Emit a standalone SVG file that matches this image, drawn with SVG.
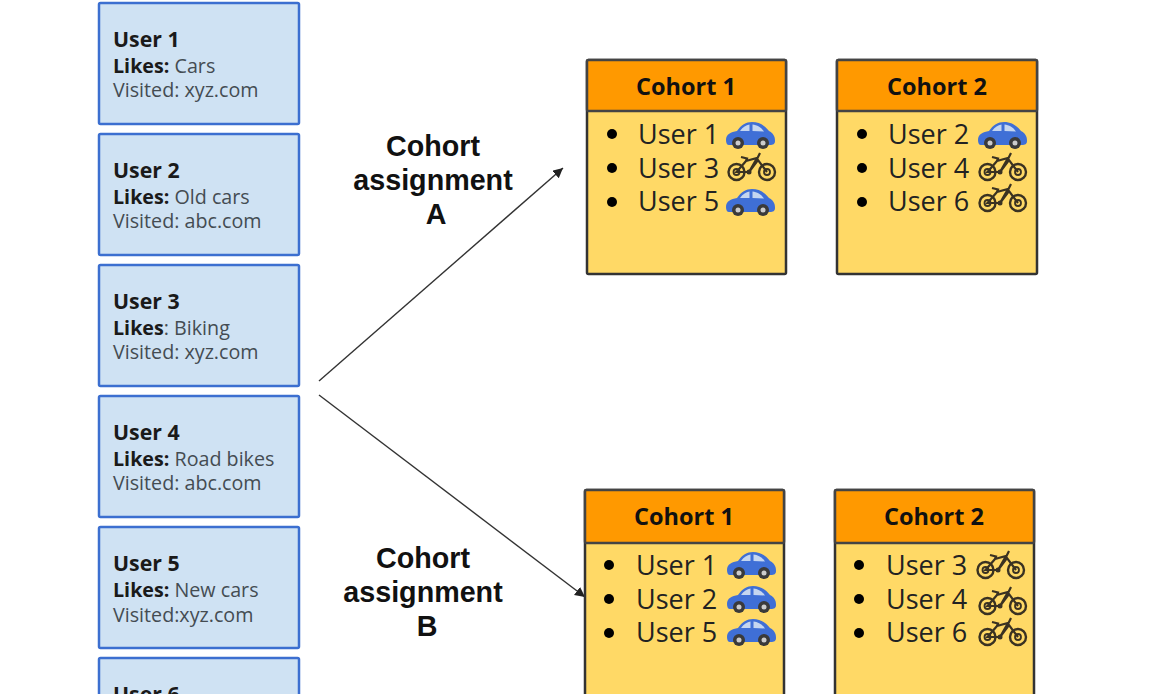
<svg xmlns="http://www.w3.org/2000/svg" xmlns:xlink="http://www.w3.org/1999/xlink" width="1170" height="694" viewBox="0 0 1170 694">
<style>
text{font-family:"Open Sans","Noto Sans","Liberation Sans",sans-serif}
.ub{fill:#cfe2f3;stroke:#3c6fd0;stroke-width:2.5}
.n{font-size:21.3px;font-weight:700;fill:#1a1a1a}
.l{font-size:19.7px;fill:#444c52}
.l tspan{font-weight:700;fill:#1a1a1a}
.cb{fill:#ffd966;stroke:#333;stroke-width:2.5}
.ch{fill:#ff9900;stroke:#444;stroke-width:2.5}
.ct{font-size:23.5px;font-weight:700;fill:#111;text-anchor:middle}
.it{font-size:27px;fill:#222}
.lab{font-family:"Liberation Sans",Arial,sans-serif;font-size:28.7px;font-weight:700;fill:#111;text-anchor:middle}
.conn{fill:none;stroke:#333;stroke-width:1.4}
</style>
<defs>
<marker id="ah" markerUnits="userSpaceOnUse" markerWidth="12" markerHeight="12" refX="10" refY="5" orient="auto"><path d="M0 0L10 5L0 10Z" fill="#222"/></marker>
<g id="car">
<path d="M0 18C0 12 5 10 11 9C15 3 20 0 26 0C34 0 39 4 43 9C47 11 49 14 49 19C49 22 47 23 44 23H3C1 23 0 21 0 18Z" fill="#3f6fd6"/>
<path d="M14 9C17 5 20 3 23.500 2.500V9ZM26.500 2.500C31 3 35 5 38 9.500L26.500 9Z" fill="#c5d6f0"/>
<circle cx="12" cy="21" r="6" fill="#3a3a3a"/><circle cx="12" cy="21" r="2.500" fill="#ccc"/>
<circle cx="37" cy="21" r="6" fill="#3a3a3a"/><circle cx="37" cy="21" r="2.500" fill="#ccc"/>
</g>
<g id="bike" fill="none" stroke="#3a3222">
<circle cx="9.500" cy="20" r="8" stroke-width="2.400"/><circle cx="9.500" cy="20" r="3" stroke-width="1.800"/>
<circle cx="40" cy="20" r="8" stroke-width="2.400"/><circle cx="40" cy="20" r="3" stroke-width="1.800"/>
<path d="M9.500 20L19 9L30 6L22 20ZM22 20L31 8L40 20M30 7L33 1M14 5L20 6.500L19 9" stroke-width="2.200"/>
<circle cx="22" cy="20" r="2.500" fill="#3a3222" stroke="none"/>
</g>
</defs>

<g id="connectors">
<path class="conn" marker-end="url(#ah)" d="M319 381L563 168"/>
<path class="conn" marker-end="url(#ah)" d="M319 395L585 597"/>
</g>

<g id="user1"><rect class="ub" x="99" y="3" width="200" height="121" rx="1.500"/><text class="n" x="113" y="47">User 1</text><text class="l" x="113" y="73"><tspan>Likes:</tspan> Cars</text><text class="l" x="113" y="97">Visited: xyz.com</text></g>
<g id="user2"><rect class="ub" x="99" y="134" width="200" height="121" rx="1.500"/><text class="n" x="113" y="178">User 2</text><text class="l" x="113" y="204"><tspan>Likes:</tspan> Old cars</text><text class="l" x="113" y="228">Visited: abc.com</text></g>
<g id="user3"><rect class="ub" x="99" y="265" width="200" height="121" rx="1.500"/><text class="n" x="113" y="309">User 3</text><text class="l" x="113" y="335"><tspan>Likes</tspan>: Biking</text><text class="l" x="113" y="359">Visited: xyz.com</text></g>
<g id="user4"><rect class="ub" x="99" y="396" width="200" height="121" rx="1.500"/><text class="n" x="113" y="440">User 4</text><text class="l" x="113" y="466"><tspan>Likes:</tspan> Road bikes</text><text class="l" x="113" y="490">Visited: abc.com</text></g>
<g id="user5"><rect class="ub" x="99" y="527" width="200" height="121" rx="1.500"/><text class="n" x="113" y="571">User 5</text><text class="l" x="113" y="597"><tspan>Likes:</tspan> New cars</text><text class="l" x="113" y="622">Visited:xyz.com</text></g>
<g id="user6"><rect class="ub" x="99" y="658" width="200" height="121" rx="1.500"/><text class="n" x="113" y="702">User 6</text></g>

<g id="labelA"><text class="lab" x="433" y="156">Cohort</text><text class="lab" x="433" y="190">assignment</text><text class="lab" x="436" y="224">A</text></g>
<g id="labelB"><text class="lab" x="423" y="568">Cohort</text><text class="lab" x="423" y="602">assignment</text><text class="lab" x="427" y="636">B</text></g>

<g id="cohortA1">
<rect class="cb" x="587" y="60" width="199" height="214" rx="1.500"/><rect class="ch" x="587" y="60" width="199" height="51" rx="1.500"/>
<text class="ct" x="686" y="95">Cohort 1</text>
<circle cx="612" cy="134" r="5"/><circle cx="612" cy="168" r="5"/><circle cx="612" cy="202" r="5"/>
<text class="it" x="638" y="144">User 1</text><text class="it" x="638" y="178">User 3</text><text class="it" x="638" y="211">User 5</text>
<use xlink:href="#car" href="#car" x="726" y="122"/><use xlink:href="#bike" href="#bike" x="727" y="152"/><use xlink:href="#car" href="#car" x="726" y="189"/>
</g>
<g id="cohortA2">
<rect class="cb" x="837" y="60" width="200" height="214" rx="1.500"/><rect class="ch" x="837" y="60" width="200" height="51" rx="1.500"/>
<text class="ct" x="937" y="95">Cohort 2</text>
<circle cx="862" cy="134" r="5"/><circle cx="862" cy="168" r="5"/><circle cx="862" cy="202" r="5"/>
<text class="it" x="888" y="144">User 2</text><text class="it" x="888" y="178">User 4</text><text class="it" x="888" y="211">User 6</text>
<use xlink:href="#car" href="#car" x="978" y="122"/><use xlink:href="#bike" href="#bike" x="978" y="152"/><use xlink:href="#bike" href="#bike" x="978" y="183"/>
</g>
<g id="cohortB1">
<rect class="cb" x="585" y="490" width="199" height="240" rx="1.500"/><rect class="ch" x="585" y="490" width="199" height="53" rx="1.500"/>
<text class="ct" x="684" y="525">Cohort 1</text>
<circle cx="609" cy="565" r="5"/><circle cx="609" cy="599" r="5"/><circle cx="609" cy="633" r="5"/>
<text class="it" x="636" y="575">User 1</text><text class="it" x="636" y="609">User 2</text><text class="it" x="636" y="642">User 5</text>
<use xlink:href="#car" href="#car" x="727" y="552"/><use xlink:href="#car" href="#car" x="727" y="586"/><use xlink:href="#car" href="#car" x="727" y="619"/>
</g>
<g id="cohortB2">
<rect class="cb" x="835" y="490" width="199" height="240" rx="1.500"/><rect class="ch" x="835" y="490" width="199" height="53" rx="1.500"/>
<text class="ct" x="934" y="525">Cohort 2</text>
<circle cx="859" cy="565" r="5"/><circle cx="859" cy="599" r="5"/><circle cx="859" cy="633" r="5"/>
<text class="it" x="886" y="575">User 3</text><text class="it" x="886" y="609">User 4</text><text class="it" x="886" y="642">User 6</text>
<use xlink:href="#bike" href="#bike" x="976" y="550"/><use xlink:href="#bike" href="#bike" x="978" y="586"/><use xlink:href="#bike" href="#bike" x="978" y="617"/>
</g>
</svg>
